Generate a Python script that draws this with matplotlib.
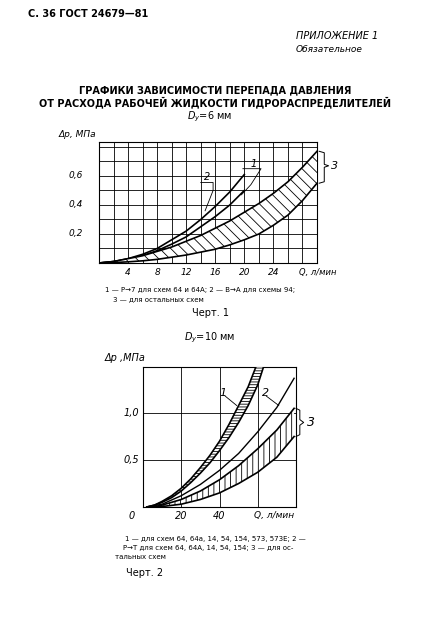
import matplotlib
matplotlib.use("Agg")
import matplotlib.pyplot as plt
import numpy as np

plt.rcParams['font.family'] = ['DejaVu Sans']
plt.rcParams['hatch.linewidth'] = 0.6

# Chart 1 data (Dy = 6 mm)
q1_a = [0, 2, 4, 6, 8, 10, 12, 14, 16, 18, 20]
c1_curve2 = [0, 0.01, 0.03, 0.06, 0.10, 0.16, 0.22, 0.30, 0.39, 0.49, 0.61]
c1_curve1 = [0, 0.01, 0.025, 0.05, 0.085, 0.13, 0.18, 0.25, 0.32, 0.40, 0.50]
q1_b = [0, 2, 4, 6, 8, 10, 12, 14, 16, 18, 20, 22, 24, 26, 28, 30]
c1_band_hi = [0, 0.01, 0.03, 0.05, 0.08, 0.11, 0.15, 0.19, 0.24, 0.29, 0.35, 0.41, 0.48, 0.56, 0.66, 0.77]
c1_band_lo = [0, 0.003, 0.008, 0.015, 0.025, 0.04, 0.055, 0.075, 0.095, 0.125, 0.16, 0.20, 0.26, 0.33, 0.43, 0.55]
x1_ticks = [4, 8, 12, 16, 20, 24]
y1_ticks = [0.2, 0.4, 0.6]
y1_labels = ['0,2', '0,4', '0,6']

# Chart 2 data (Dy = 10 mm)
q2_1 = [2, 6, 10, 15, 20, 25, 30, 35, 40, 45, 50, 55, 59]
c2_band1_hi = [0, 0.02, 0.06, 0.12, 0.20, 0.30, 0.42, 0.55, 0.70, 0.88, 1.08, 1.28, 1.49]
q2_1b = [2, 6, 10, 15, 20, 25, 30, 35, 40, 45, 50, 55, 60, 63]
c2_band1_lo = [0, 0.02, 0.05, 0.10, 0.17, 0.26, 0.36, 0.47, 0.60, 0.74, 0.90, 1.08, 1.30, 1.49]
q2_2 = [2, 10, 20, 30, 40, 50, 60, 70, 79]
c2_curve2 = [0, 0.03, 0.12, 0.24, 0.39, 0.57, 0.80, 1.06, 1.37]
q2_3 = [5, 10, 20, 30, 40, 50, 60, 70, 79]
c2_band3_hi = [0, 0.02, 0.08, 0.17, 0.29, 0.44, 0.62, 0.82, 1.05]
c2_band3_lo = [0, 0.005, 0.03, 0.08, 0.15, 0.25, 0.37, 0.53, 0.75]
x2_ticks = [20, 40]
y2_ticks = [0.5, 1.0]
y2_labels = ['0,5', '1,0']

W, H = 429, 618
fig = plt.figure(figsize=(W/100, H/100), dpi=100)
fig.patch.set_facecolor('white')

def ax_px(x0, y0, x1, y1):
    return fig.add_axes([x0/W, 1-y1/H, (x1-x0)/W, (y1-y0)/H])

def t(x, y, s, **kw):
    fig.text(x/W, 1-y/H, s, **kw)

t(28, 14, 'С. 36 ГОСТ 24679—81', fontsize=7, fontweight='bold', va='center')
t(296, 36, 'ПРИЛОЖЕНИЕ 1', fontsize=7, style='italic', va='center')
t(296, 50, 'Обязательное', fontsize=6.5, style='italic', va='center')
t(215, 90, 'ГРАФИКИ ЗАВИСИМОСТИ ПЕРЕПАДА ДАВЛЕНИЯ', fontsize=7, fontweight='bold', ha='center', va='center')
t(215, 102, 'ОТ РАСХОДА РАБОЧЕЙ ЖИДКОСТИ ГИДРОРАСПРЕДЕЛИТЕЛЕЙ', fontsize=7, fontweight='bold', ha='center', va='center')
t(210, 117, '$D_y$=6 мм', fontsize=7, ha='center', va='center')

# Chart 1
ax = ax_px(99, 142, 317, 263)
ax.set_xlim(0, 30); ax.set_ylim(0, 0.834)
ax.set_xticks(np.arange(0, 31, 2))
ax.set_yticks(np.arange(0, 0.84, 0.1))
ax.grid(True, color='black', lw=0.6)
ax.tick_params(length=0, labelbottom=False, labelleft=False)
for s in ax.spines.values(): s.set_linewidth(0.8)
ax.plot(q1_a, c1_curve2, 'k', lw=1.2)
ax.plot(q1_a, c1_curve1, 'k', lw=1.2)
ax.fill_between(q1_b, c1_band_lo, c1_band_hi, facecolor='white', edgecolor='black', hatch='\\\\\\', lw=0, zorder=3)
ax.plot(q1_b, c1_band_hi, 'k', lw=1.2, zorder=4)
ax.plot(q1_b, c1_band_lo, 'k', lw=1.2, zorder=4)
for v in x1_ticks:
    ax.text(v, -0.035, str(v), ha='center', va='top', fontsize=6.5, style='italic')
for v, l in zip(y1_ticks, y1_labels):
    ax.text(-2.2, v, l, ha='right', va='center', fontsize=6.5, style='italic')
ax.text(27.5, -0.035, 'Q, л/мин', ha='left', va='top', fontsize=6, style='italic', clip_on=False)
ax.text(-5.5, 0.87, 'Δр, МПа', fontsize=6.5, style='italic')
ax.text(14.5, 0.57, '2', fontsize=7, style='italic')
ax.plot([14.0, 15.7, 15.7, 14.6], [0.555, 0.555, 0.50, 0.36], 'k', lw=0.6)
ax.text(20.8, 0.665, '1', fontsize=7, style='italic')
ax.plot([19.8, 22.3, 20.9, 19.6], [0.65, 0.65, 0.54, 0.47], 'k', lw=0.6)
ax.plot([30.3, 31.0, 31.0, 31.6, 31.0, 31.0, 30.3], [0.77, 0.76, 0.68, 0.67, 0.66, 0.56, 0.55], 'k', lw=0.7, clip_on=False)
ax.text(31.9, 0.67, '3', fontsize=8, style='italic', va='center', clip_on=False)

t(200, 290, '1 — Р→7 для схем 64 и 64А; 2 — В→А для схемы 94;', fontsize=5, ha='center', va='center')
t(158, 299, '3 — для остальных схем', fontsize=5, ha='center', va='center')
t(210, 313, 'Черт. 1', fontsize=7, ha='center', va='center')
t(210, 338, '$D_y$=10 мм', fontsize=7, ha='center', va='center')

# Chart 2
ax2 = ax_px(143, 367, 296, 507)
ax2.set_xlim(0, 80); ax2.set_ylim(0, 1.49)
ax2.set_xticks([20, 40, 60]); ax2.set_yticks([0.5, 1.0])
ax2.grid(True, color='black', lw=0.6)
ax2.tick_params(length=0, labelbottom=False, labelleft=False)
for s in ax2.spines.values(): s.set_linewidth(0.8)
qq = np.linspace(2, 63, 120)
ax2.fill_between(qq, np.interp(qq, q2_1b, c2_band1_lo), np.interp(qq, q2_1, c2_band1_hi, right=1.6),
                 facecolor='white', edgecolor='black', hatch='------', lw=0, zorder=3)
ax2.plot(q2_1, c2_band1_hi, 'k', lw=1.2, zorder=4)
ax2.plot(q2_1b, c2_band1_lo, 'k', lw=1.2, zorder=4)
ax2.plot(q2_2, c2_curve2, 'k', lw=1.0)
ax2.fill_between(q2_3, c2_band3_lo, c2_band3_hi, facecolor='white', edgecolor='black', hatch='|||', lw=0, zorder=3)
ax2.plot(q2_3, c2_band3_hi, 'k', lw=1.2, zorder=4)
ax2.plot(q2_3, c2_band3_lo, 'k', lw=1.2, zorder=4)
for v in x2_ticks:
    ax2.text(v, -0.04, str(v), ha='center', va='top', fontsize=7, style='italic')
ax2.text(-6, -0.04, '0', ha='center', va='top', fontsize=7, style='italic', clip_on=False)
for v, l in zip(y2_ticks, y2_labels):
    ax2.text(-2, v, l, ha='right', va='center', fontsize=7, style='italic')
ax2.text(58, -0.04, 'Q, л/мин', ha='left', va='top', fontsize=6.5, style='italic', clip_on=False)
ax2.text(-20, 1.55, 'Δр ,МПа', fontsize=7, style='italic', clip_on=False)
ax2.text(40, 1.18, '1', fontsize=8, style='italic', clip_on=False)
ax2.plot([43, 49], [1.18, 1.08], 'k', lw=0.6)
ax2.text(62, 1.18, '2', fontsize=8, style='italic', clip_on=False)
ax2.plot([64.5, 71], [1.18, 1.08], 'k', lw=0.6)
ax2.plot([80, 82, 82, 84, 82, 82, 80], [1.05, 1.03, 0.93, 0.9, 0.87, 0.77, 0.75], 'k', lw=0.7, clip_on=False)
ax2.text(85.5, 0.9, '3', fontsize=9, style='italic', va='center', clip_on=False)

t(215, 539, '1 — для схем 64, 64а, 14, 54, 154, 573, 573Е; 2 —', fontsize=5, ha='center', va='center')
t(208, 548, 'Р→Т для схем 64, 64А, 14, 54, 154; 3 — для ос-', fontsize=5, ha='center', va='center')
t(140, 557, 'тальных схем', fontsize=5, ha='center', va='center')
t(145, 573, 'Черт. 2', fontsize=7, ha='center', va='center')

fig.savefig('out.png', dpi=100, facecolor='white')
